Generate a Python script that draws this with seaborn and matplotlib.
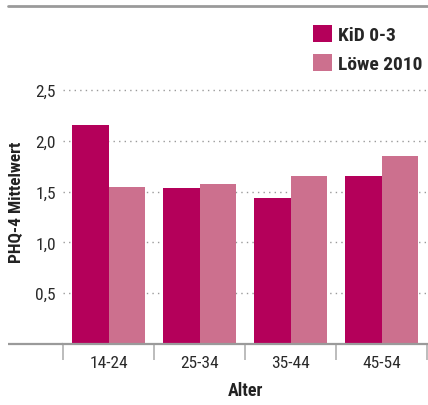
import matplotlib
matplotlib.use("Agg")
import matplotlib.pyplot as plt
from matplotlib.lines import Line2D
from matplotlib.ticker import FixedLocator, FuncFormatter
import seaborn as sns
import pandas as pd

# Daten
altersgruppen = ["14-24", "25-34", "35-44", "45-54"]
kid_werte = [2.16, 1.54, 1.44, 1.65]
loewe_werte = [1.55, 1.58, 1.65, 1.85]
gruppen = ["KiD 0-3", "Löwe 2010"]
farben = ["#b4005a", "#cc708e"]
y_ticks = [0.5, 1.0, 1.5, 2.0, 2.5]

df = pd.DataFrame({
    "Alter": altersgruppen * 2,
    "Wert": kid_werte + loewe_werte,
    "Gruppe": [gruppen[0]] * 4 + [gruppen[1]] * 4,
})

sns.set_style("white")
plt.rcParams["font.family"] = ["Roboto Condensed", "DejaVu Sans Condensed",
                               "Liberation Sans Narrow", "Roboto", "DejaVu Sans"]

fig = plt.figure(figsize=(4.28, 4.06), dpi=100)
ax = fig.add_axes([63 / 428, 61 / 406, 365 / 428, 325 / 406])

sns.barplot(data=df, x="Alter", y="Wert", hue="Gruppe", palette=farben,
            width=0.8, saturation=1, linewidth=0, ax=ax)

ax.set_xlim(-0.5, 3.51)
ax.set_ylim(0, 3.2)

# Achsen
for s in ["top", "right", "left"]:
    ax.spines[s].set_visible(False)
ax.spines["bottom"].set_color("#9a9a9a")
ax.spines["bottom"].set_linewidth(1.6)
ax.plot([-55 / 365, 0], [0, 0], transform=ax.transAxes, clip_on=False,
        color="#9a9a9a", lw=1.6, solid_capstyle="butt")

ax.yaxis.set_major_locator(FixedLocator(y_ticks))
ax.yaxis.set_major_formatter(FuncFormatter(lambda v, p: f"{v:.1f}".replace(".", ",")))
ax.tick_params(axis="y", length=0, pad=5, labelsize=12.5, labelcolor="#2a2a2a")
ax.xaxis.set_minor_locator(FixedLocator([-0.5, 0.5, 1.5, 2.5, 3.5]))
ax.tick_params(axis="x", which="major", length=0, pad=8, labelsize=12.5, labelcolor="#2a2a2a")
ax.tick_params(axis="x", which="minor", length=11.5, width=1.1, color="#aaaaaa", bottom=True)

ax.yaxis.grid(True, linestyle=(0, (1, 3)), color="#9a9a9a", lw=1)
ax.set_axisbelow(True)

ax.set_xlabel("Alter", fontsize=13, fontweight="bold", color="#222222")
ax.set_ylabel("PHQ-4 Mittelwert", fontsize=12.5, fontweight="bold", color="#222222")
ax.xaxis.set_label_coords(0.5, -0.115)
ax.yaxis.set_label_coords(-0.108, 0.44)

ax.legend(loc="upper left", bbox_to_anchor=(313 / 428, 1 - 26 / 406),
          bbox_transform=fig.transFigure, frameon=False, borderpad=0,
          borderaxespad=0, handlelength=0.97, handleheight=0.97,
          handletextpad=0.3, labelspacing=0.5,
          prop={"weight": "bold", "size": 14})

# obere Trennlinie
fig.add_artist(Line2D([8 / 428, 1], [1 - 7 / 406] * 2, color="#9a9a9a", lw=2))

fig.savefig("out.png", dpi=100)
